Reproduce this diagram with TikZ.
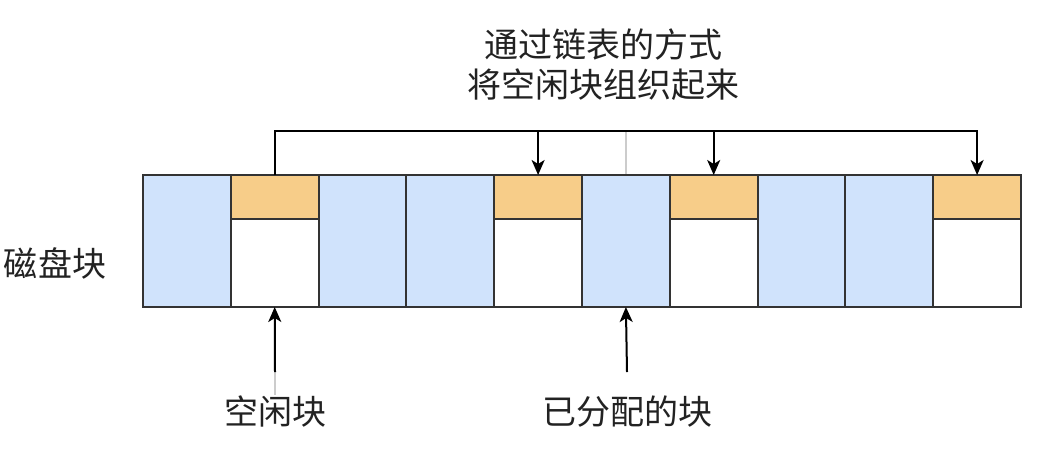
\documentclass[tikz,border=0pt]{standalone}
\usepackage{fontspec}
\setmainfont{Noto Sans CJK SC}
\usetikzlibrary{arrows.meta,positioning}
\definecolor{blk}{HTML}{D0E3FC}
\definecolor{hdr}{HTML}{F7CD89}
\definecolor{edge}{HTML}{333333}
\definecolor{txt}{HTML}{222222}
\tikzset{
  x=1pt,y=-1pt,
  cell/.style={minimum width=87.8pt,inner sep=0pt,outer sep=0pt},
  usedblk/.style={cell,fill=blk,minimum height=132pt},
  headblk/.style={cell,fill=hdr,minimum height=43.5pt},
  bodyblk/.style={cell,fill=white,minimum height=88.5pt},
  outline/.style={draw=edge,line width=2pt},
  conn/.style={draw=black,line width=2pt},
  arr/.style={conn,-{Stealth[length=15pt,width=13pt,inset=4pt]}},
  lbl/.style={text=txt,font=\fontsize{34pt}{40pt}\selectfont,inner sep=0pt,align=center}
}
\begin{document}
\begin{tikzpicture}
\useasboundingbox (0,0) rectangle (1048,448);
% used blocks
\foreach \i/\n in {0/b1,2/b3,3/b4,5/b6,7/b8,8/b9}{
  \node[usedblk] (\n) at ({143+43.9+87.8*\i},241) {};
}
% free blocks
\foreach \i/\n in {1/2,4/5,6/7,9/10}{
  \node[headblk] (h\n) at ({143+43.9+87.8*\i},196.75) {};
  \node[bodyblk] (f\n) at ({143+43.9+87.8*\i},262.75) {};
}
% outlines
\foreach \n in {b1,b3,b4,b6,b8,b9,h2,f2,h5,f5,h7,f7,h10,f10}{
  \draw[outline] (\n.south west) rectangle (\n.north east);
}
% linked list line
\coordinate (t2) at (h2.north |- 0,131);
\coordinate (t5) at (h5.north |- 0,131);
\coordinate (t6) at (b6.north |- 0,131);
\coordinate (t7) at (h7.north |- 0,131);
\draw[draw=black!20,line width=1.5pt] (t6) -- ([yshift=1pt]b6.north);
\draw[arr] (h2.north) -- (t2) -| (h10.north);
\draw[arr] (t5) -- (h5.north);
\draw[arr] (t7) -- (h7.north);
% labels
\node[lbl] (top) at (603,65) {通过链表的方式\\将空闲块组织起来};
\node[lbl] (disk) at (55,263) {磁盘块};
\node[lbl] (free) at (275,412) {空闲块};
\node[lbl] (used) at (627,412) {已分配的块};
\coordinate (fa) at (275,372);
\coordinate (ua) at (627,372);
\draw[draw=black!20,line width=1.5pt] (fa) -- (275,395);
\draw[arr] (fa) -- (f2.south);
\draw[arr] (ua) -- (b6.south);
\end{tikzpicture}
\end{document}
